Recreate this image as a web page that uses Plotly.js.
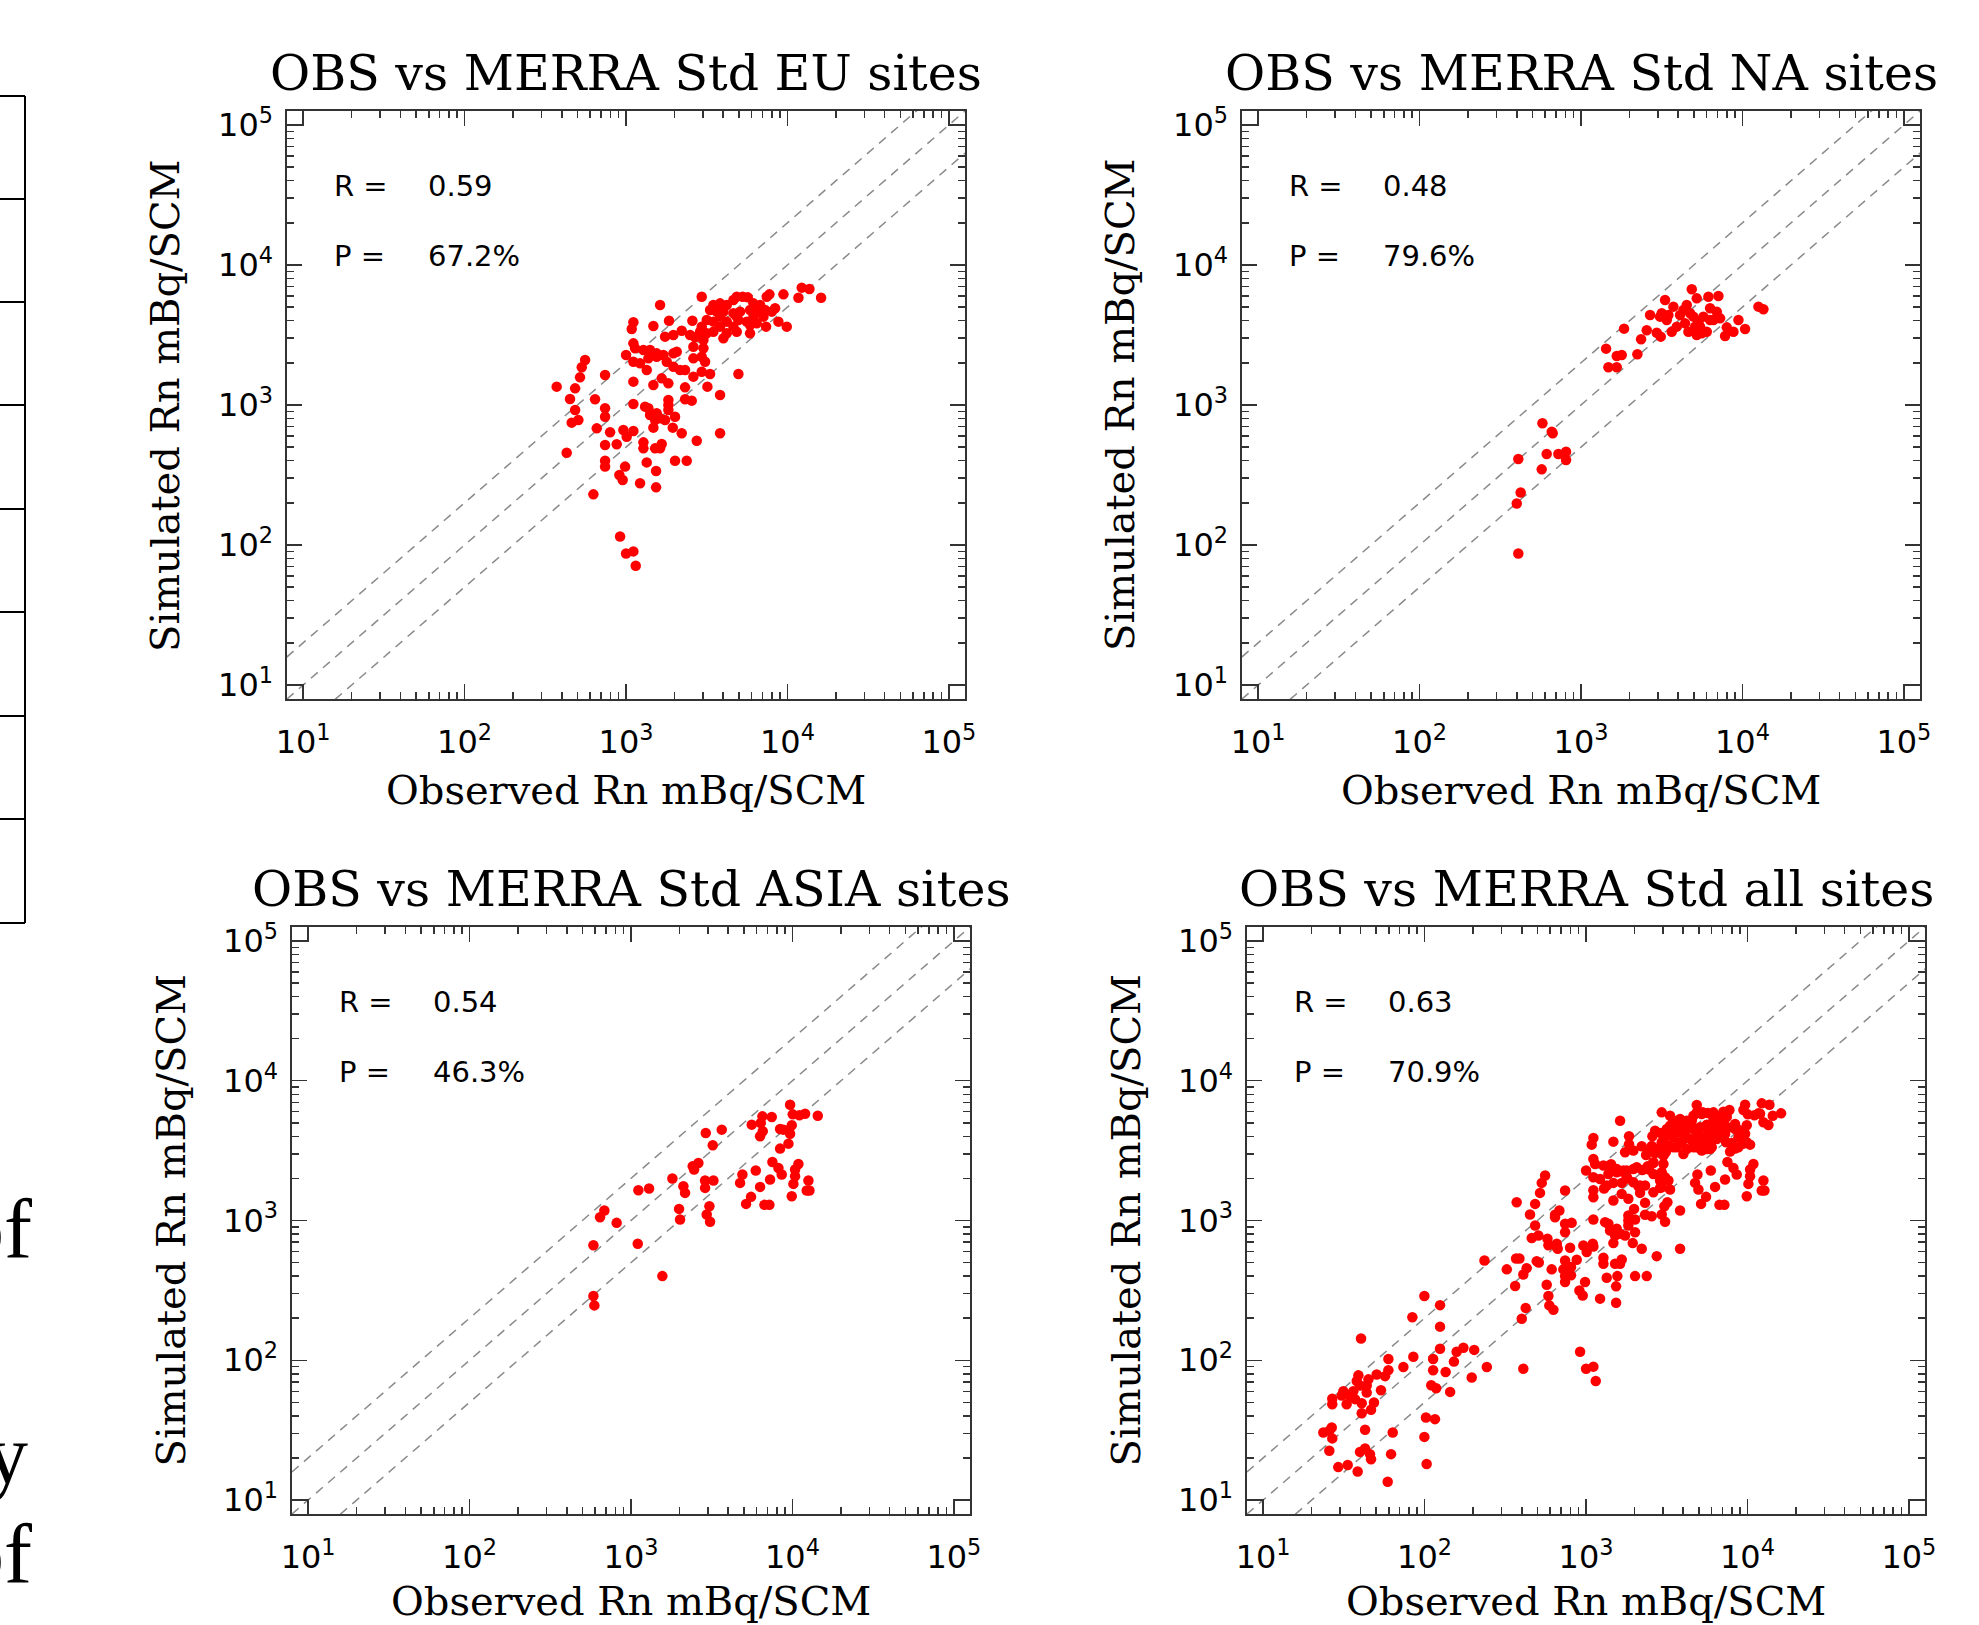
<!DOCTYPE html>
<html><head><meta charset="utf-8">
<script src="https://cdn.plot.ly/plotly-3.0.1.min.js"></script>
<style>html,body{margin:0;padding:0;background:#fff;overflow:hidden}#chart{width:1979px;height:1625px}</style>
</head><body><div id="chart"></div>
<script>
// ---------- data ----------
const panelTitles = ['OBS vs MERRA Std EU sites', 'OBS vs MERRA Std NA sites', 'OBS vs MERRA Std ASIA sites', 'OBS vs MERRA Std all sites'];
const rValues = ['0.59', '0.48', '0.54', '0.63'];
const pValues = ['67.2%', '79.6%', '46.3%', '70.9%'];
const xAxisLabel = 'Observed Rn mBq/SCM';
const yAxisLabel = 'Simulated Rn mBq/SCM';
const majorTicks = [10, 100, 1000, 10000, 100000];
const tickText = ['10<sup>1</sup>', '10<sup>2</sup>', '10<sup>3</sup>', '10<sup>4</sup>', '10<sup>5</sup>'];
const minorTicks = [20,30,40,50,60,70,80,90,200,300,400,500,600,700,800,900,2000,3000,4000,5000,6000,7000,8000,9000,20000,30000,40000,50000,60000,70000,80000,90000];
const diagRatios = [2, 1, 0.5];
const sideWords = ['of', 'y', 'of'];

const euObs = [12266,13685,11700,16163,9445,7734,7445,2945,4853,5288,5678,4628,3826,3478,4209,6156,6769,8385,1626,
3317,3649,4012,4628,5091,5869,6457,7270,7997,3826,4853,6156,7100,
1848,2578,3163,3478,4209,4970,5597,6457,8795,9904,7375,5869,4628,1111,1085,1478,2945,3826,
1746,1966,2214,2494,2877,3163,3478,4209,4853,5869,4012,3017,2678,
1111,1138,2615,3017,1282,1409,1550,
1001,1111,1222,1376,1550,1704,1966,2062,2615,2945,3089,1788,558,
532,742,519,484,372,1111,1344,1478,1664,1830,1966,2162,2322,2615,2945,3317,3194,4970,3826,2322,
450,643,742,742,484,507,461,1111,1313,1376,1409,1550,1514,1626,1830,1830,1830,2013,1746,2322,2554,659,3826,
797,963,1010,1111,1478,1948,2214,2743,742,876,1282,1282,1514,1626,1664,429,
742,742,987,1344,1536,2013,2378,910,954,1222,1536,628,
919,1001,1111,1149];
const euSim = [6889,6740,5843,5843,6170,6170,5940,5940,5940,5940,5875,5623,5323,5179,5179,5323,5179,4904,5179,
4771,4642,4642,4516,4642,4771,4642,4771,4642,4276,4276,4276,4276,
4003,4003,4047,3938,3938,4047,3938,3831,3938,3627,3627,3727,3627,3895,3490,3667,3627,3627,
3077,3162,3395,3162,3340,3250,3340,3250,3340,3250,2993,2912,3043,
2757,2540,2610,2540,2473,2473,2339,
2276,2039,1984,2154,2214,2276,2339,2404,2154,2214,2039,2039,2096,
1858,1638,1576,1315,1352,1468,1778,1389,1550,1428,1878,1778,1778,1594,1730,1665,1352,1665,1179,1337,
1104,1098,947,825,921,782,748,1017,973,947,848,872,782,803,1086,1000,921,825,782,1098,1074,681,628,
638,663,594,652,689,689,628,556,518,524,541,490,490,490,527,456,
400,363,363,389,338,400,400,316,291,276,258,230,
115,87,90,71];

const naObs = [409,400,423,409,571,577,659,668,613,724,808,808,1430,1478,1665,1665,1788,1848,2235,2356,
2554,2679,2946,3119,3317,3164,3398,3737,3649,3919,4310,4520,4628,4855,4971,5212,5338,5466,5597,6012,
6156,6304,6611,7100,7270,7809,7997,8795,9445,10386,12565,13490,4110,4740,4413,5091,5732,6304,6933,5212,3479,3090];
const naSim = [87,198,237,411,347,740,645,628,447,447,464,405,2526,1858,1858,2239,2276,3510,2301,2945,
3415,4394,3286,3077,5623,4516,4047,5040,3340,3627,4771,5179,3340,6703,4276,5779,3938,3627,3250,3340,
5940,4904,4047,6005,4159,3111,3586,3340,4047,3490,5040,4825,4394,4516,3831,3627,4276,4047,4642,3162,4394,4276];

const asiaObs = [9672,14357,11978,11047,10047,9904,8794,9672,8385,6518,7445,6365,5598,6549,6304,9444,8385,3649,2904,3209,
7516,8189,8585,10891,10385,10385,12565,10141,12266,12741,9904,5928,4900,4740,7269,6304,5542,5162,6707,7200,
2412,2615,2459,1805,2111,2162,2877,3240,2877,3060,2945,3089,1985,2013,1294,1111,815,684,643,1101,585,1564,585,593];
const asiaSim = [6740,5623,5811,5654,5748,4797,4467,4181,4516,5562,5502,4984,4850,4345,4003,3548,3268,4467,4228,3452,
2624,2378,2132,2540,2314,2073,1931,1828,1638,1638,1492,2276,2132,1858,1963,1740,1476,1315,1294,1294,
2444,2582,2314,1995,1759,1576,1931,1931,1711,1266,1104,979,1211,1017,1693,1648,962,1179,1056,681,666,400,288,247];

// sites that appear only in the "all sites" panel
const otherObs = [40.4,38.9,50.5,44.9,59.7,59.7,56.9,53.7,43.8,39.8,36.2,31.4,34.5,30.7,26.8,26.8,32.9,37.1,40.8,48.6,
40.8,46.6,43.8,38.0,73.9,85.2,84.0,99.7,124.7,124.7,124.7,113,113,158,174,152,135,110,118,144,
196,203,243,102,116,99.7,103,63.5,62.0,59.1,42.8,42.8,39.8,46.6,45.9,38.5,33.4,29.2,25.7,23.6,
26.6,26.8,25.7,235,323,369,387,364,495,510];
const otherSim = [143,78,79,73,102,85,77,61,66,66,60,60,56,56,53,48.5,48.5,52.7,49.3,49.8,
41.8,44.2,58.7,71,89.6,106,203,288,248,174,121,102,84.8,115,123,97.8,82.5,66.3,63.1,59.4,
75.2,118.6,89.6,39,37.9,28.3,18.1,30.4,21.3,13.5,31.8,23.4,22.1,19.6,21.3,16.0,17.8,17.2,22.5,30.4,
33,27.6,31.3,518,447,535,535,340,512,500];

const allObs = euObs.concat(naObs, asiaObs, otherObs);
const allSim = euSim.concat(naSim, asiaSim, otherSim);

const panelObs = [euObs, naObs, asiaObs, allObs];
const panelSim = [euSim, naSim, asiaSim, allSim];

// ---------- layout geometry (pixels of the 1979x1625 page) ----------
const W = 1979, H = 1625;
const boxes = [
  {l: 287, r: 965, t: 111, b: 699},
  {l: 1242, r: 1920, t: 111, b: 699},
  {l: 292, r: 970, t: 927, b: 1514},
  {l: 1247, r: 1925, t: 927, b: 1514}
];
const px = v => v / W, py = v => 1 - v / H;

const axCol = '#333333';
const traces = [];
const layout = {
  width: W, height: H,
  margin: {l: 0, r: 0, t: 0, b: 0},
  paper_bgcolor: '#ffffff', plot_bgcolor: '#ffffff',
  showlegend: false,
  annotations: [], shapes: []
};

function axis(domain, anchor, isX) {
  return {
    type: 'log', range: [0.9, 5.1], domain: domain, anchor: anchor,
    showline: true, linecolor: axCol, linewidth: 1.6, mirror: 'ticks',
    ticks: 'inside', ticklen: 15, tickwidth: 1.5, tickcolor: axCol,
    tickmode: 'array', tickvals: majorTicks, ticktext: tickText,
    ticklabelstandoff: isX ? 14 : 6,
    tickfont: {family: 'DejaVu Sans', size: 32, color: '#000'},
    minor: {tickmode: 'array', tickvals: minorTicks, ticks: 'inside', ticklen: 7, tickwidth: 1.5, tickcolor: axCol, showgrid: false},
    showgrid: false, zeroline: false, fixedrange: true
  };
}

boxes.forEach((b, i) => {
  const n = i === 0 ? '' : String(i + 1);
  const xa = 'x' + n, ya = 'y' + n;
  layout['xaxis' + n] = axis([px(b.l), px(b.r)], ya, true);
  layout['yaxis' + n] = axis([py(b.b), py(b.t)], xa, false);

  diagRatios.forEach(r => {
    traces.push({
      type: 'scatter', mode: 'lines', xaxis: xa, yaxis: ya,
      x: [1, 1000000], y: [r * 1, r * 1000000],
      line: {color: '#8a8a8a', width: 1.5, dash: '9px,7px'},
      hoverinfo: 'skip'
    });
  });
  traces.push({
    type: 'scatter', mode: 'markers', xaxis: xa, yaxis: ya,
    x: panelObs[i], y: panelSim[i],
    marker: {color: '#ff0000', size: 10.5, line: {width: 0}}
  });

  const bw = b.r - b.l, bh = b.b - b.t;
  const ann = layout.annotations;
  const xd = xa + ' domain', yd = ya + ' domain';
  ann.push({xref: xd, yref: yd, x: 0.5, y: 1 + 38 / bh, xanchor: 'center', yanchor: 'middle', showarrow: false,
    text: panelTitles[i], font: {family: 'DejaVu Serif', size: 49, color: '#000'}});
  if (i < 2) {
    ann.push({xref: xd, yref: yd, x: 0.5, y: -91 / bh, xanchor: 'center', yanchor: 'middle', showarrow: false,
      text: xAxisLabel, font: {family: 'DejaVu Serif', size: 40, color: '#000'}});
  } else {
    ann.push({xref: xd, yref: 'paper', x: 0.5, y: 0, xanchor: 'center', yanchor: 'bottom', showarrow: false, borderpad: 0,
      text: xAxisLabel, font: {family: 'DejaVu Serif', size: 40, color: '#000'}});
  }
  ann.push({xref: xd, yref: yd, x: -122 / bw, y: 0.5, xanchor: 'center', yanchor: 'middle', showarrow: false, textangle: -90,
    text: yAxisLabel, font: {family: 'DejaVu Serif', size: 40, color: '#000'}});
  const sf = {family: 'DejaVu Sans', size: 29, color: '#000'};
  ann.push({xref: xd, yref: yd, x: 45 / bw, y: 1 - 75 / bh, xanchor: 'left', yanchor: 'middle', showarrow: false, text: 'R =', font: sf});
  ann.push({xref: xd, yref: yd, x: 139 / bw, y: 1 - 75 / bh, xanchor: 'left', yanchor: 'middle', showarrow: false, text: rValues[i], font: sf});
  ann.push({xref: xd, yref: yd, x: 45 / bw, y: 1 - 145 / bh, xanchor: 'left', yanchor: 'middle', showarrow: false, text: 'P =', font: sf});
  ann.push({xref: xd, yref: yd, x: 139 / bw, y: 1 - 145 / bh, xanchor: 'left', yanchor: 'middle', showarrow: false, text: pValues[i], font: sf});
});

// fragment of a table and of body text cut off at the left edge of the page
const tableRows = [96, 199, 302, 405, 509, 612, 716, 819, 923];
layout.shapes.push({type: 'line', xref: 'paper', yref: 'paper', x0: px(25), x1: px(25), y0: py(96), y1: py(923), line: {color: '#000', width: 2}});
tableRows.forEach(yv => layout.shapes.push({type: 'line', xref: 'paper', yref: 'paper', x0: 0, x1: px(25), y0: py(yv), y1: py(yv), line: {color: '#000', width: 2}}));
const sideY = [1228, 1454, 1553];
const sideX = [33, 29, 33];
sideWords.forEach((w, k) => layout.annotations.push({xref: 'paper', yref: 'paper', x: px(sideX[k]), y: py(sideY[k]), xanchor: 'right', yanchor: 'middle',
  showarrow: false, text: w, borderpad: 0, font: {family: 'Liberation Serif', size: 84, color: '#000'}}));

Plotly.newPlot('chart', traces, layout, {staticPlot: true, displayModeBar: false});
</script>
</body></html>
